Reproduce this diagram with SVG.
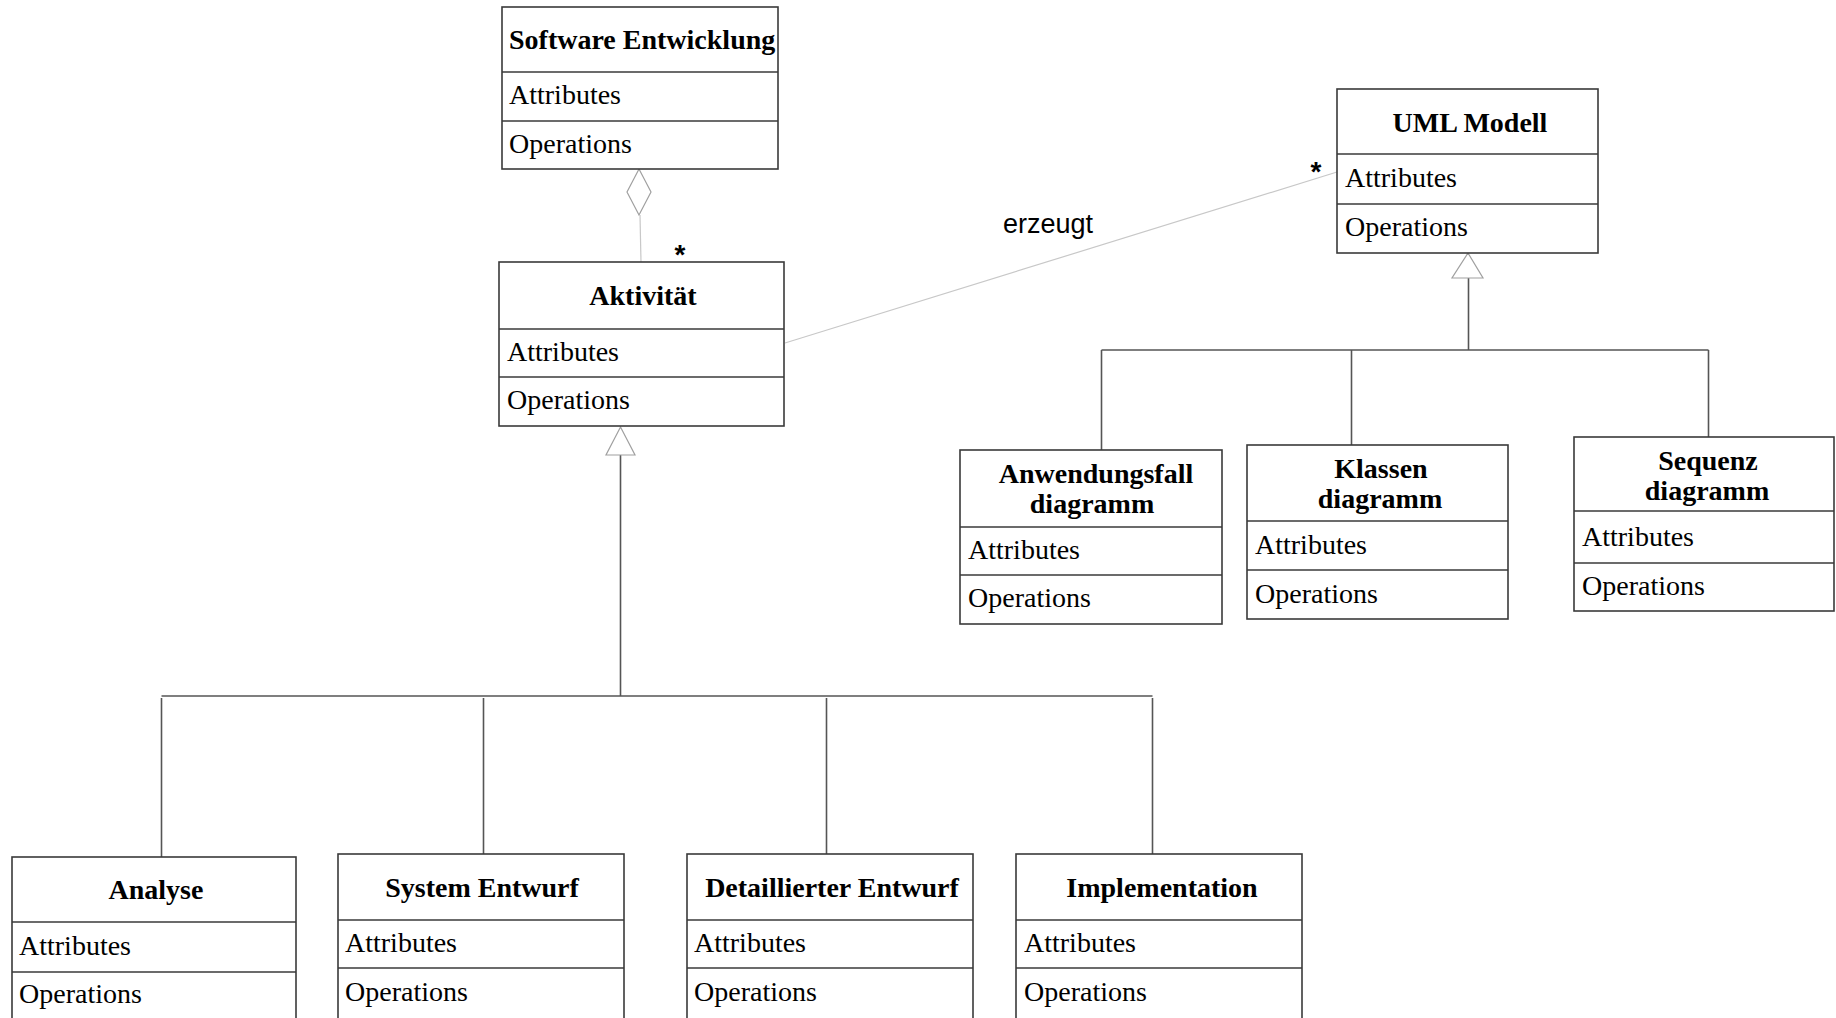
<svg xmlns="http://www.w3.org/2000/svg" width="1836" height="1018" viewBox="0 0 1836 1018">
  <style>
    .box { fill: #ffffff; stroke: #3a3a3a; stroke-width: 1.6; }
    .div { stroke: #3a3a3a; stroke-width: 1.6; }
    .title { font-family: "Liberation Serif", "Times New Roman", serif; font-weight: bold; font-size: 28px; fill: #000; }
    .body { font-family: "Liberation Serif", "Times New Roman", serif; font-size: 28px; fill: #000; }
    .lbl { font-family: "Liberation Sans", Arial, sans-serif; font-size: 27px; fill: #000; }
    .mult { font-family: "Liberation Sans", Arial, sans-serif; font-size: 28px; font-weight: bold; fill: #000; }
    .gen { stroke: #555; stroke-width: 1.6; fill: none; }
    .tri { fill: #fff; stroke: #a0a0a0; stroke-width: 1.2; }
    .assoc { stroke: #c8c8c8; stroke-width: 1.2; fill: none; }
  </style>

  <!-- connectors -->
  <g id="connectors">
    <!-- aggregation: Software Entwicklung <>- Aktivität -->
    <polygon class="tri" points="639,169 651,192 639,215 627,192"/>
    <line class="assoc" x1="640" y1="215" x2="641" y2="262"/>
    <text class="mult" x="680" y="264" text-anchor="middle">*</text>

    <!-- association erzeugt: Aktivität - UML Modell -->
    <line class="assoc" x1="785" y1="343" x2="1337" y2="172"/>
    <text class="lbl" x="1003" y="233">erzeugt</text>
    <text class="mult" x="1316" y="181" text-anchor="middle">*</text>

    <!-- generalization tree under Aktivität -->
    <polyline class="gen" points="620.5,455 620.5,696"/>
    <line class="gen" x1="161.5" y1="696" x2="1152.5" y2="696"/>
    <line class="gen" x1="161.5" y1="698" x2="161.5" y2="857"/>
    <line class="gen" x1="483.5" y1="698" x2="483.5" y2="854"/>
    <line class="gen" x1="826.5" y1="698" x2="826.5" y2="854"/>
    <line class="gen" x1="1152.5" y1="698" x2="1152.5" y2="854"/>
    <polygon class="tri" points="620.5,427 635,455 606,455"/>

    <!-- generalization tree under UML Modell -->
    <polyline class="gen" points="1468.5,278 1468.5,350"/>
    <line class="gen" x1="1101.5" y1="350" x2="1708.5" y2="350"/>
    <line class="gen" x1="1101.5" y1="350" x2="1101.5" y2="450"/>
    <line class="gen" x1="1351.5" y1="350" x2="1351.5" y2="445"/>
    <line class="gen" x1="1708.5" y1="350" x2="1708.5" y2="437"/>
    <polygon class="tri" points="1468,253 1483,278 1452,278"/>
  </g>

  <!-- class nodes -->
  <g id="software-entwicklung">
    <rect class="box" x="502" y="7" width="276" height="162"/>
    <line class="div" x1="502" y1="72" x2="778" y2="72"/>
    <line class="div" x1="502" y1="121" x2="778" y2="121"/>
    <text class="title" x="509" y="49">Software Entwicklung</text>
    <text class="body" x="509" y="104">Attributes</text>
    <text class="body" x="509" y="153">Operations</text>
  </g>

  <g id="aktivitaet">
    <rect class="box" x="499" y="262" width="285" height="164"/>
    <line class="div" x1="499" y1="329" x2="784" y2="329"/>
    <line class="div" x1="499" y1="377" x2="784" y2="377"/>
    <text class="title" x="643" y="305" text-anchor="middle">Aktivität</text>
    <text class="body" x="507" y="361">Attributes</text>
    <text class="body" x="507" y="409">Operations</text>
  </g>

  <g id="uml-modell">
    <rect class="box" x="1337" y="89" width="261" height="164"/>
    <line class="div" x1="1337" y1="154" x2="1598" y2="154"/>
    <line class="div" x1="1337" y1="204" x2="1598" y2="204"/>
    <text class="title" x="1470" y="132" text-anchor="middle">UML Modell</text>
    <text class="body" x="1345" y="187">Attributes</text>
    <text class="body" x="1345" y="236">Operations</text>
  </g>

  <g id="anwendungsfalldiagramm">
    <rect class="box" x="960" y="450" width="262" height="174"/>
    <line class="div" x1="960" y1="527" x2="1222" y2="527"/>
    <line class="div" x1="960" y1="575" x2="1222" y2="575"/>
    <text class="title" x="1096" y="483" text-anchor="middle">Anwendungsfall</text>
    <text class="title" x="1092" y="513" text-anchor="middle">diagramm</text>
    <text class="body" x="968" y="559">Attributes</text>
    <text class="body" x="968" y="607">Operations</text>
  </g>

  <g id="klassendiagramm">
    <rect class="box" x="1247" y="445" width="261" height="174"/>
    <line class="div" x1="1247" y1="521" x2="1508" y2="521"/>
    <line class="div" x1="1247" y1="570" x2="1508" y2="570"/>
    <text class="title" x="1381" y="478" text-anchor="middle">Klassen</text>
    <text class="title" x="1380" y="508" text-anchor="middle">diagramm</text>
    <text class="body" x="1255" y="554">Attributes</text>
    <text class="body" x="1255" y="603">Operations</text>
  </g>

  <g id="sequenzdiagramm">
    <rect class="box" x="1574" y="437" width="260" height="174"/>
    <line class="div" x1="1574" y1="511" x2="1834" y2="511"/>
    <line class="div" x1="1574" y1="563" x2="1834" y2="563"/>
    <text class="title" x="1708" y="470" text-anchor="middle">Sequenz</text>
    <text class="title" x="1707" y="500" text-anchor="middle">diagramm</text>
    <text class="body" x="1582" y="546">Attributes</text>
    <text class="body" x="1582" y="595">Operations</text>
  </g>

  <g id="analyse">
    <rect class="box" x="12" y="857" width="284" height="180"/>
    <line class="div" x1="12" y1="922" x2="296" y2="922"/>
    <line class="div" x1="12" y1="972" x2="296" y2="972"/>
    <text class="title" x="156" y="899" text-anchor="middle">Analyse</text>
    <text class="body" x="19" y="955">Attributes</text>
    <text class="body" x="19" y="1003">Operations</text>
  </g>

  <g id="system-entwurf">
    <rect class="box" x="338" y="854" width="286" height="180"/>
    <line class="div" x1="338" y1="920" x2="624" y2="920"/>
    <line class="div" x1="338" y1="968" x2="624" y2="968"/>
    <text class="title" x="482" y="897" text-anchor="middle">System Entwurf</text>
    <text class="body" x="345" y="952">Attributes</text>
    <text class="body" x="345" y="1001">Operations</text>
  </g>

  <g id="detaillierter-entwurf">
    <rect class="box" x="687" y="854" width="286" height="180"/>
    <line class="div" x1="687" y1="920" x2="973" y2="920"/>
    <line class="div" x1="687" y1="968" x2="973" y2="968"/>
    <text class="title" x="832" y="897" text-anchor="middle">Detaillierter Entwurf</text>
    <text class="body" x="694" y="952">Attributes</text>
    <text class="body" x="694" y="1001">Operations</text>
  </g>

  <g id="implementation">
    <rect class="box" x="1016" y="854" width="286" height="180"/>
    <line class="div" x1="1016" y1="920" x2="1302" y2="920"/>
    <line class="div" x1="1016" y1="968" x2="1302" y2="968"/>
    <text class="title" x="1162" y="897" text-anchor="middle">Implementation</text>
    <text class="body" x="1024" y="952">Attributes</text>
    <text class="body" x="1024" y="1001">Operations</text>
  </g>
</svg>
